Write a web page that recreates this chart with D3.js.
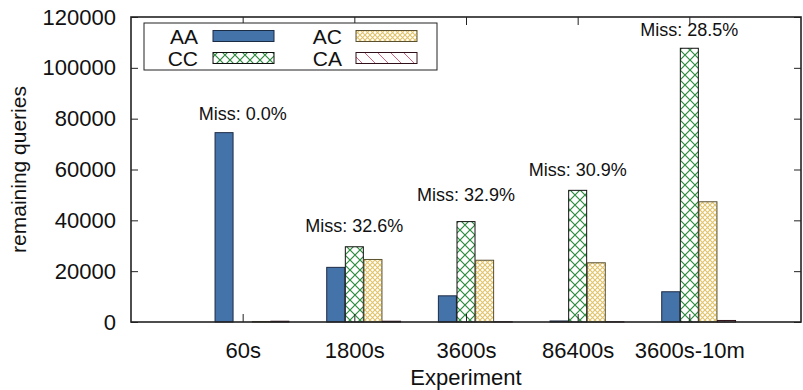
<!DOCTYPE html>
<html>
<head>
<meta charset="utf-8">
<script src="https://cdn.jsdelivr.net/npm/d3@7"></script>
<style>
  body { margin: 0; background: #fff; }
  text { font-family: "Liberation Sans", Arial, Helvetica, sans-serif; fill: #111; }
</style>
</head>
<body>
<svg id="chart" width="803" height="390"></svg>
<script>
// data
const experiments = ['60s', '1800s', '3600s', '86400s', '3600s-10m'];
const seriesNames = ['AA', 'CC', 'AC', 'CA'];
const aaValues = [74500, 21500, 10300, 400, 11900];
const ccValues = [0, 29600, 39500, 51800, 107700];
const acValues = [200, 24600, 24300, 23300, 47300];
const caValues = [300, 300, 100, 100, 600];
const missLabels = ['Miss: 0.0%', 'Miss: 32.6%', 'Miss: 32.9%', 'Miss: 30.9%', 'Miss: 28.5%'];
const missLabelY = [79500, 35400, 47600, 57400, 112500];
const yTicks = [0, 20000, 40000, 60000, 80000, 100000, 120000];

const seriesValues = [aaValues, ccValues, acValues, caValues];
const fills = ['#4473a9', 'url(#pCC)', 'url(#pAC)', 'url(#pCA)'];
const strokes = ['#1c2b44', '#111', '#5a5030', '#301018'];

const margin = {top: 17, right: 2, bottom: 68, left: 131};
const W = 803, H = 390;

const svg = d3.select('#chart');

const x = d3.scaleLinear().domain([-1, 5]).range([margin.left, W - margin.right]);
const y = d3.scaleLinear().domain([0, 120000]).range([H - margin.bottom, margin.top]);
const slot = 1 / 6;
const barW = x(slot) - x(0) - 0.6;

// patterns
const defs = svg.append('defs');
const pCC = defs.append('pattern').attr('id', 'pCC')
  .attr('patternUnits', 'userSpaceOnUse').attr('width', 10).attr('height', 10);
pCC.append('rect').attr('width', 10).attr('height', 10).attr('fill', '#fff');
pCC.append('path').attr('d', 'M0,0 L10,10 M10,0 L0,10')
  .attr('stroke', '#2a8a3c').attr('stroke-width', 1.2);

const pAC = defs.append('pattern').attr('id', 'pAC')
  .attr('patternUnits', 'userSpaceOnUse').attr('width', 5).attr('height', 5);
pAC.append('rect').attr('width', 5).attr('height', 5).attr('fill', '#fff');
pAC.append('path').attr('d', 'M0,0 L5,5 M5,0 L0,5')
  .attr('stroke', '#e2c468').attr('stroke-width', 1.1);

const pCA = defs.append('pattern').attr('id', 'pCA')
  .attr('patternUnits', 'userSpaceOnUse').attr('width', 13).attr('height', 13);
pCA.append('rect').attr('width', 13).attr('height', 13).attr('fill', '#fff');
pCA.append('path').attr('d', 'M0,0 L13,13 M-2,11 L2,15 M11,-2 L15,2')
  .attr('stroke', '#d4607a').attr('stroke-width', 1);

// bars
seriesValues.forEach((vals, k) => {
  svg.append('g').selectAll('rect')
    .data(vals)
    .join('rect')
    .attr('x', (d, i) => x(i + (k - 1) * slot) - barW / 2)
    .attr('y', d => y(d))
    .attr('width', barW)
    .attr('height', d => y(0) - y(d))
    .attr('fill', fills[k])
    .attr('stroke', strokes[k])
    .attr('stroke-width', 1);
});

// axes (inward ticks, mirrored)
const left = svg.append('g').attr('transform', `translate(${x(-1)},0)`)
  .call(d3.axisLeft(y).tickValues(yTicks).tickSize(-7).tickPadding(15).tickFormat(d3.format('d')));
left.selectAll('text').style('font-size', '22px');

svg.append('g').attr('transform', `translate(${x(5)},0)`)
  .call(d3.axisRight(y).tickValues(yTicks).tickSize(-7).tickFormat(''));

const bottom = svg.append('g').attr('transform', `translate(0,${y(0)})`)
  .call(d3.axisBottom(x).tickValues(d3.range(experiments.length)).tickSize(-8).tickPadding(20)
    .tickFormat(i => experiments[i]));
bottom.selectAll('text').style('font-size', '22px');

svg.append('g').attr('transform', `translate(0,${y(120000)})`)
  .call(d3.axisTop(x).tickValues(d3.range(experiments.length)).tickSize(-8).tickFormat(''));

svg.selectAll('.domain').remove();
svg.selectAll('.tick line').attr('stroke', '#222').attr('stroke-width', 1);
svg.selectAll('.tick text').attr('fill', '#111').attr('font-family', null);

// frame
svg.append('rect')
  .attr('x', x(-1)).attr('y', y(120000))
  .attr('width', x(5) - x(-1)).attr('height', y(0) - y(120000))
  .attr('fill', 'none').attr('stroke', '#222').attr('stroke-width', 1.6);

// miss labels
svg.append('g').selectAll('text')
  .data(missLabels)
  .join('text')
  .attr('x', (d, i) => x(i))
  .attr('y', (d, i) => y(missLabelY[i]))
  .attr('text-anchor', 'middle')
  .style('font-size', '18px')
  .text(d => d);

// axis titles
svg.append('text')
  .attr('x', x(2)).attr('y', 385)
  .attr('text-anchor', 'middle')
  .style('font-size', '22px')
  .text('Experiment');

svg.append('text')
  .attr('transform', `translate(26,${(y(0) + y(120000)) / 2}) rotate(-90)`)
  .attr('text-anchor', 'middle')
  .style('font-size', '21px')
  .text('remaining queries');

// legend
const legend = svg.append('g');
legend.append('rect')
  .attr('x', 144).attr('y', 23).attr('width', 293).attr('height', 47)
  .attr('fill', '#fff').attr('stroke', '#222').attr('stroke-width', 1);

const legendPos = [
  {tx: 198, sx: 213, cy: 36},
  {tx: 198, sx: 213, cy: 58},
  {tx: 342, sx: 356, cy: 36},
  {tx: 342, sx: 356, cy: 58}
];
seriesNames.forEach((name, k) => {
  const p = legendPos[k];
  legend.append('text')
    .attr('x', p.tx).attr('y', p.cy + 7.5)
    .attr('text-anchor', 'end')
    .style('font-size', '21px')
    .text(name);
  legend.append('rect')
    .attr('x', p.sx).attr('y', p.cy - 5.5).attr('width', 61).attr('height', 11)
    .attr('fill', fills[k]).attr('stroke', strokes[k]).attr('stroke-width', 1);
});
</script>
</body>
</html>
